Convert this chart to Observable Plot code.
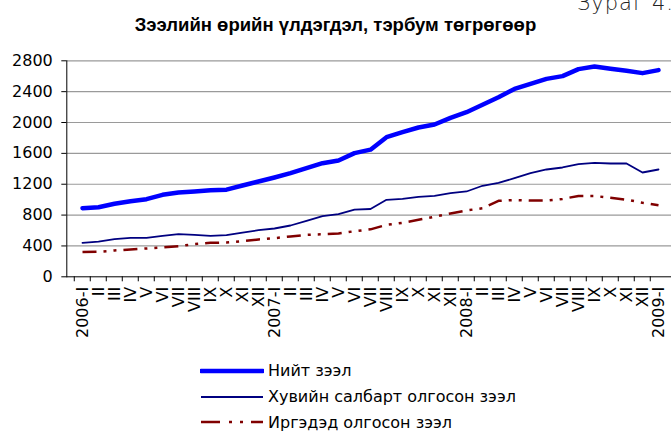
<!DOCTYPE html>
<html>
<head>
<meta charset="utf-8">
<script src="https://cdn.jsdelivr.net/npm/d3@7"></script>
<script src="https://cdn.jsdelivr.net/npm/@observablehq/plot@0.6"></script>
<style>
  html, body { margin: 0; padding: 0; background: #fff; width: 671px; height: 432px; overflow: hidden; }
  #wrap { position: relative; width: 671px; height: 432px; overflow: hidden; }
  #fig { position: absolute; left: 577px; top: -9px; font-family: "DejaVu Sans", sans-serif; font-size: 21px; font-weight: 300; color: #222; white-space: nowrap; letter-spacing: 1px; }
  #title { position: absolute; left: 0; width: 671px; top: 14px; text-align: center; font-family: "Liberation Sans", Arial, sans-serif; font-weight: bold; font-size: 18.5px; line-height: 21px; color: #000; }
  #chart { position: absolute; left: 0; top: 40px; }
  #legend { position: absolute; left: 200px; top: 358px; font-family: "DejaVu Sans", sans-serif; font-size: 16px; color: #000; }
  .row { display: flex; align-items: center; height: 25.7px; }
  .row svg { margin-right: 4px; }
</style>
</head>
<body>
<div id="wrap">
  <div id="fig">Зураг 4.</div>
  <div id="title">Зээлийн өрийн үлдэгдэл, тэрбум төгрөгөөр</div>
  <div id="chart"></div>
  <div id="legend"></div>
</div>
<script>
// Categories (months) and tick labels
const tickLabels = [
  "2006-I","II","III","IV","V","VI","VII","VIII","IX","X","XI","XII",
  "2007-I","II","III","IV","V","VI","VII","VIII","IX","X","XI","XII",
  "2008-I","II","III","IV","V","VI","VII","VIII","IX","X","XI","XII",
  "2009-I"
];
const periods = tickLabels.map((d, i) => i);

// Series values (billion tugrik)
const totalLoans = [889,902,946,980,1006,1063,1093,1106,1123,1130,1183,1235,
                    1287,1343,1408,1473,1508,1603,1648,1810,1875,1935,1974,2061,
                    2134,2230,2328,2435,2502,2566,2601,2692,2726,2696,2670,2640,
                    2679];
const privateLoans = [440,457,488,505,505,531,552,544,531,539,574,604,
                      626,665,726,786,812,872,879,998,1011,1037,1050,1084,
                      1106,1180,1218,1278,1343,1391,1417,1460,1478,1469,1469,1352,
                      1391];
const individualLoans = [320,324,341,354,367,380,397,423,440,445,462,484,
                         501,523,544,552,561,591,615,674,700,739,778,821,
                         860,889,985,995,989,989,1010,1048,1048,1024,1000,960,
                         928];
const yTicks = [0,400,800,1200,1600,2000,2400,2800];

const seriesNames = ["Нийт зээл", "Хувийн салбарт олгосон зээл", "Иргэдэд олгосон зээл"];
const seriesColors = ["#0000ff", "#000080", "#800000"];
const seriesWidths = [4.5, 1.8, 2.5];
const seriesDash = [null, null, "14,7,3,7,3,7"];
const seriesValues = [totalLoans, privateLoans, individualLoans];

const xRange = [66.3, 674.6];
const band = (xRange[1] - xRange[0]) / periods.length;

const plot = Plot.plot({
  width: 671,
  height: 320,
  marginTop: 20.3,
  marginBottom: 83.7,
  marginLeft: 66.3,
  marginRight: 0,
  style: { fontFamily: "DejaVu Sans, sans-serif", fontSize: "16px", color: "#000", background: "transparent" },
  x: { type: "band", domain: periods, range: xRange, padding: 0 },
  y: { domain: [0, 2800] },
  marks: [
    Plot.ruleY(yTicks.filter(d => d > 0), { stroke: "#9a9a9a", strokeWidth: 1.2 }),
    Plot.axisY({ ticks: yTicks, tickSize: 5, tickPadding: 9, label: null, tickFormat: d => String(d) }),
    Plot.axisX({ tickSize: 5, tickFormat: () => "", dx: -band / 2, label: null }),
    Plot.axisX({ tickSize: 0, tickPadding: 10, tickRotate: -90, tickFormat: i => tickLabels[i], label: null }),
    ...seriesValues.map((vals, s) => Plot.line(periods, {
      x: i => i,
      y: i => vals[i],
      stroke: seriesColors[s],
      strokeWidth: seriesWidths[s],
      strokeDasharray: seriesDash[s] || undefined,
      strokeLinejoin: "round",
      strokeLinecap: s === 2 ? "butt" : "round"
    })),
    Plot.ruleY([0], { stroke: "#000", strokeWidth: 1 }),
    Plot.frame({ anchor: "left", stroke: "#000", strokeWidth: 1 })
  ]
});
document.getElementById("chart").appendChild(plot);

// Legend
const legend = document.getElementById("legend");
seriesNames.forEach((name, s) => {
  const row = document.createElement("div");
  row.className = "row";
  const ns = "http://www.w3.org/2000/svg";
  const svg = document.createElementNS(ns, "svg");
  svg.setAttribute("width", 64);
  svg.setAttribute("height", 10);
  const ln = document.createElementNS(ns, "line");
  ln.setAttribute("x1", 1); ln.setAttribute("x2", 63);
  ln.setAttribute("y1", 5); ln.setAttribute("y2", 5);
  ln.setAttribute("stroke", seriesColors[s]);
  ln.setAttribute("stroke-width", seriesWidths[s]);
  if (seriesDash[s]) ln.setAttribute("stroke-dasharray", "19,9,3,8,3,8");
  if (s === 0) ln.setAttribute("stroke-linecap", "round");
  svg.appendChild(ln);
  row.appendChild(svg);
  const t = document.createElement("span");
  t.textContent = name;
  row.appendChild(t);
  legend.appendChild(row);
});
</script>
</body>
</html>
